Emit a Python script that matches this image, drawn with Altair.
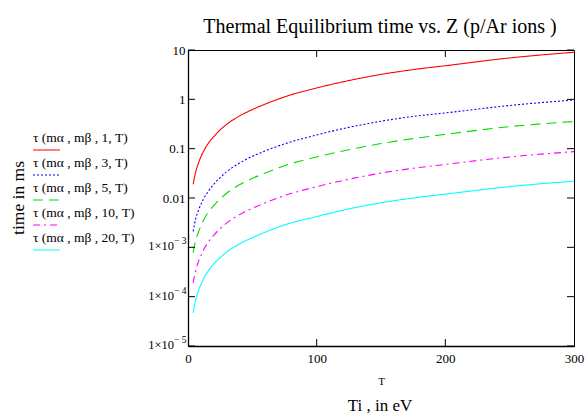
import altair as alt
import pandas as pd

# ---- data ----
T = [4, 6, 8, 10, 12, 15, 20, 25, 30, 40, 50, 60, 75, 100, 125, 150, 175, 200, 250, 300]
z1 = [0.019, 0.034, 0.05, 0.068, 0.088, 0.12, 0.175, 0.24, 0.31, 0.46, 0.62, 0.8, 1.12,
      1.7, 2.4, 3.2, 4.0, 4.8, 6.9, 9.0]
z3 = [0.0021, 0.0038, 0.0055, 0.0074, 0.0095, 0.0128, 0.019, 0.026, 0.034, 0.051, 0.07,
      0.09, 0.125, 0.19, 0.27, 0.36, 0.45, 0.53, 0.75, 0.97]
z5 = [7.8e-4, 0.0014, 0.002, 0.0027, 0.0035, 0.0048, 0.007, 0.0096, 0.0125, 0.0185, 0.025,
      0.032, 0.045, 0.068, 0.095, 0.127, 0.16, 0.195, 0.28, 0.355]
z10 = [1.9e-4, 3.4e-4, 5.0e-4, 6.8e-4, 8.8e-4, 0.0012, 0.00175, 0.0024, 0.0031, 0.0046,
       0.0062, 0.008, 0.0112, 0.017, 0.024, 0.032, 0.04, 0.048, 0.068, 0.087]
z20 = [4.7e-5, 8.5e-5, 1.3e-4, 1.75e-4, 2.3e-4, 3.1e-4, 4.6e-4, 6.2e-4, 8.0e-4, 1.17e-3,
       1.57e-3, 2.03e-3, 2.85e-3, 4.2e-3, 6.0e-3, 8.0e-3, 0.01, 0.012, 0.017, 0.022]

series_names = ["τ (mα , mβ , 1, T)", "τ (mα , mβ , 3, T)", "τ (mα , mβ , 5, T)",
                "τ (mα , mβ , 10, T)", "τ (mα , mβ , 20, T)"]
series_vals = [z1, z3, z5, z10, z20]
colors = ["#ff0000", "#0000ff", "#00dd00", "#ff00ff", "#00ffff"]
dashes = [[1, 0], [2, 2], [10, 6], [7, 4, 2, 4], [1, 0]]

y_ticks = [1e-5, 1e-4, 1e-3, 0.01, 0.1, 1, 10]
x_ticks = [0, 100, 200, 300]
small_ticks = [1e-3, 1e-4, 1e-5]
small_base = ["1×10", "1×10", "1×10"]
small_exp = ["− 3", "− 4", "− 5"]

rows = []
for name, vals in zip(series_names, series_vals):
    for t, v in zip(T, vals):
        rows.append({"T": t, "value": v, "series": name})
df = pd.DataFrame(rows)

W, H = 386, 296
FONT = "Liberation Serif"

label_expr = ("datum.value > 5 ? '10' : datum.value > 0.5 ? '1' : datum.value > 0.05 ? '0.1' : "
              "datum.value > 0.005 ? '0.01' : ''")

xscale = alt.Scale(domain=[0, 300], nice=False, zero=False)
yscale = alt.Scale(type="log", domain=[1e-5, 10], nice=False)

xaxis = alt.Axis(values=x_ticks, title="T", titleFontSize=11, titleFont=FONT,
                 titleFontWeight="normal", titlePadding=10,
                 labelFont=FONT, labelFontSize=13, labelPadding=6, labelFlush=False,
                 ticks=False, tickSize=0, grid=False, domainColor="black", domainWidth=1.3,
                 labelColor="black", titleColor="black")
yaxis = alt.Axis(values=y_ticks, labelExpr=label_expr, title=None,
                 labelFont=FONT, labelFontSize=13, labelPadding=3,
                 ticks=False, tickSize=0, grid=False, domainColor="black", domainWidth=1.3,
                 labelColor="black")

lines = alt.Chart(df).mark_line(strokeWidth=1.1, interpolate="monotone", clip=True).encode(
    x=alt.X("T:Q", scale=xscale, axis=xaxis),
    y=alt.Y("value:Q", scale=yscale, axis=yaxis),
    color=alt.Color("series:N", scale=alt.Scale(domain=series_names, range=colors), legend=None),
    strokeDash=alt.StrokeDash("series:N", scale=alt.Scale(domain=series_names, range=dashes), legend=None),
)

ydf = pd.DataFrame({"value": y_ticks})
xdf = pd.DataFrame({"T": [100, 200]})
sdf = pd.DataFrame({"value": small_ticks, "base": small_base, "exp": small_exp})

ytick_l = alt.Chart(ydf).mark_rule(color="black", strokeWidth=1).encode(
    y=alt.Y("value:Q", scale=yscale, axis=yaxis), x=alt.value(0), x2=alt.value(7))
ytick_r = alt.Chart(ydf).mark_rule(color="black", strokeWidth=1).encode(
    y=alt.Y("value:Q", scale=yscale, axis=yaxis), x=alt.value(W - 7), x2=alt.value(W))
xtick_b = alt.Chart(xdf).mark_rule(color="black", strokeWidth=1).encode(
    x=alt.X("T:Q", scale=xscale, axis=xaxis), y=alt.value(H - 7), y2=alt.value(H))
xtick_t = alt.Chart(xdf).mark_rule(color="black", strokeWidth=1).encode(
    x=alt.X("T:Q", scale=xscale, axis=xaxis), y=alt.value(0), y2=alt.value(7))

# 1x10^-n labels with a real superscript
base_lbl = alt.Chart(sdf).mark_text(font=FONT, fontSize=12.5, align="right", baseline="middle",
                                    color="black", dy=-1).encode(
    y=alt.Y("value:Q", scale=yscale, axis=yaxis), x=alt.value(-14), text="base:N")
exp_lbl = alt.Chart(sdf).mark_text(font=FONT, fontSize=9.5, align="left", baseline="middle",
                                   color="black", dy=-6).encode(
    y=alt.Y("value:Q", scale=yscale, axis=yaxis), x=alt.value(-14), text="exp:N")

one = pd.DataFrame({"a": [0]})
layers = [lines, ytick_l, ytick_r, xtick_b, xtick_t, base_lbl, exp_lbl]

# legend (left side, label above line sample)
LX = -155
for i, (name, c, d) in enumerate(zip(series_names, colors, dashes)):
    ty = 88 + 25 * i
    layers.append(alt.Chart(one).mark_text(font=FONT, fontSize=13.5, align="left", baseline="middle",
                                           color="black").encode(
        x=alt.value(LX), y=alt.value(ty), text=alt.value(name)))
    layers.append(alt.Chart(one).mark_rule(color=c, strokeWidth=1.2, strokeDash=d).encode(
        x=alt.value(LX), x2=alt.value(LX + 27), y=alt.value(ty + 12)))

# title
layers.append(alt.Chart(one).mark_text(font=FONT, fontSize=20, align="center",
                                       baseline="middle", color="black").encode(
    x=alt.value(W / 2 - 1), y=alt.value(-23), text=alt.value("Thermal Equilibrium time vs. Z (p/Ar ions )")))
# y title
layers.append(alt.Chart(one).mark_text(font=FONT, fontSize=17.5, angle=270, align="center",
                                       baseline="middle", color="black").encode(
    x=alt.value(-169), y=alt.value(H / 2), text=alt.value("time in ms")))
# lower x title
layers.append(alt.Chart(one).mark_text(font=FONT, fontSize=17, align="center",
                                       baseline="middle", color="black").encode(
    x=alt.value(W / 2 - 1), y=alt.value(H + 60), text=alt.value("Ti , in eV")))

chart = alt.layer(*layers).properties(
    width=W, height=H, background="white",
    autosize=alt.AutoSizeParams(type="none"),
    padding={"left": 188, "top": 50, "right": 13, "bottom": 72},
).configure_view(stroke="black", strokeWidth=1)

chart.save("out.html", embed_options={"renderer": "svg", "actions": False})
